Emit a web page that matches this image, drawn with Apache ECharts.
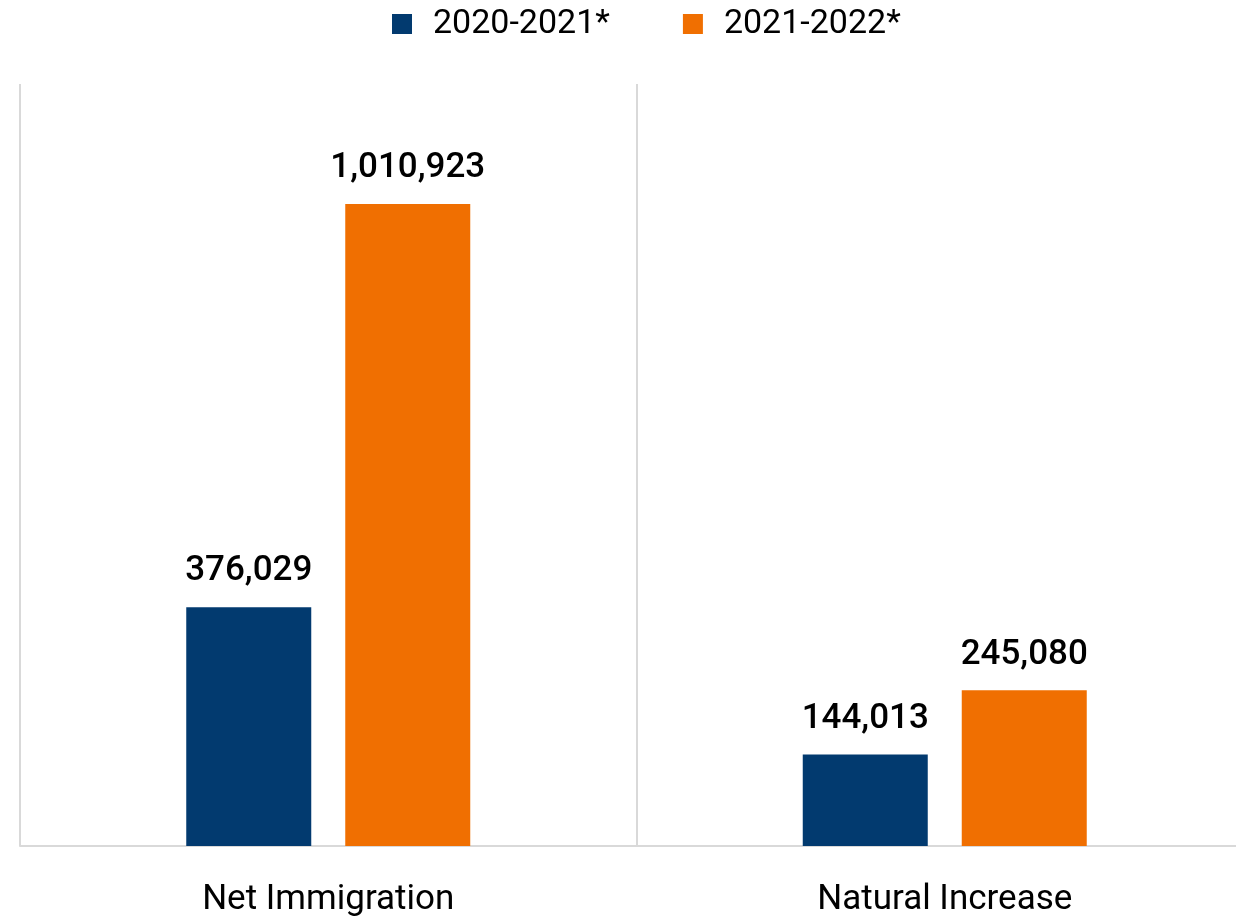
<!DOCTYPE html>
<html>
<head>
<meta charset="utf-8">
<script src="https://cdn.jsdelivr.net/npm/echarts@6/dist/echarts.min.js"></script>
<style>
  html, body { margin: 0; padding: 0; background: #ffffff; overflow: hidden; }
  /* canvas runs slightly past the right edge so the second category is as wide as the first */
  #chart { width: 1253px; height: 918px; }
</style>
</head>
<body>
<div id="chart"></div>
<script>
// Population growth components by period
const categories = ['Net Immigration', 'Natural Increase'];
const seriesNames = ['2020-2021*', '2021-2022*'];
const period2020_2021 = [376029, 144013];
const period2021_2022 = [1010923, 245080];

const colors = ['#023a6f', '#f06f01'];
const gridColor = '#d9d9d9';

const fmt = v => v.toLocaleString('en-US');

const chart = echarts.init(document.getElementById('chart'), null, { renderer: 'canvas' });

const labelStyle = {
  show: true,
  position: 'top',
  distance: 18,
  fontFamily: 'Roboto',
  fontSize: 35,
  fontWeight: 500,
  color: '#000000',
  formatter: p => fmt(p.value)
};

chart.setOption({
  animation: false,
  backgroundColor: '#ffffff',
  textStyle: { fontFamily: 'Roboto' },
  legend: {
    left: 392,
    top: 7,
    padding: 0,
    itemWidth: 20,
    itemHeight: 20,
    itemGap: 73,
    icon: 'rect',
    textStyle: {
      fontFamily: 'Roboto',
      fontSize: 34,
      color: '#000000',
      padding: [0, 0, 0, 16]
    },
    data: seriesNames
  },
  grid: {
    left: 20,
    right: 0,
    top: 84,
    bottom: 71,
    containLabel: false
  },
  xAxis: {
    type: 'category',
    data: categories,
    boundaryGap: true,
    axisLine: { show: true, lineStyle: { color: gridColor, width: 2 } },
    axisTick: { show: false },
    splitLine: { show: true, lineStyle: { color: gridColor, width: 2 } },
    axisLabel: {
      fontFamily: 'Roboto',
      fontSize: 35,
      color: '#000000',
      margin: 37
    }
  },
  yAxis: {
    type: 'value',
    min: 0,
    max: 1200000,
    show: false,
    splitLine: { show: false }
  },
  series: [
    {
      name: seriesNames[0],
      type: 'bar',
      data: period2020_2021,
      barWidth: 125,
      barGap: '27.2%',
      itemStyle: { color: colors[0] },
      label: labelStyle
    },
    {
      name: seriesNames[1],
      type: 'bar',
      data: period2021_2022,
      barWidth: 125,
      barGap: '27.2%',
      itemStyle: { color: colors[1] },
      label: labelStyle
    }
  ]
});
</script>
</body>
</html>
